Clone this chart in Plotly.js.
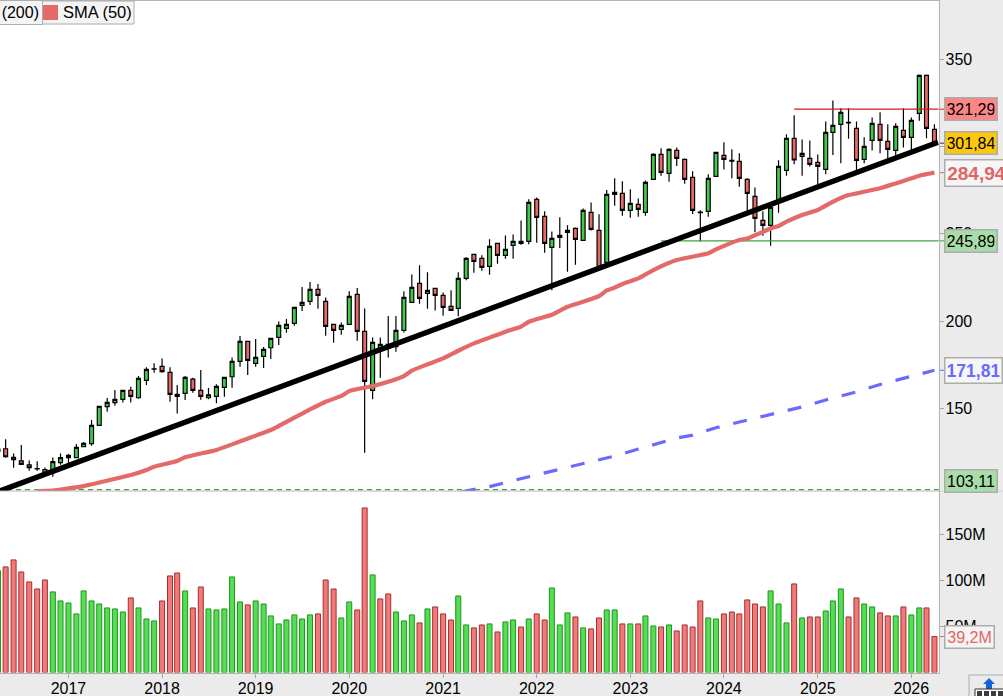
<!DOCTYPE html>
<html><head><meta charset="utf-8">
<script src="https://cdn.plot.ly/plotly-3.0.1.min.js"></script>
<style>html,body{margin:0;padding:0;background:#ebebeb;overflow:hidden}#c{width:1003px;height:696px}</style>
</head><body><div id="c"></div>
<script>
const firstMonth = [2016, 4];
const open = [125.4,126.9,121.9,120.0,117.7,115.5,114.9,114.3,118.9,
121.8,121.8,128.1,129.8,140.3,151.0,153.3,155.2,160.3,156.1,166.0,172.5,
174.0,170.6,158.0,158.6,166.7,160.3,156.1,156.9,162.0,168.1,176.9,188.4,
175.8,179.8,184.7,190.6,195.8,198.7,209.0,211.3,218.1,211.3,198.1,195.2,
198.1,215.3,194.1,160.3,183.5,184.4,185.3,194.7,210.7,221.6,215.8,218.7,
214.7,208.4,207.2,224.4,238.2,235.9,231.3,244.5,237.6,243.3,245.6,245.6,
269.7,259.9,242.2,247.9,250.8,253.1,246.2,262.2,251.9,233.6,273.7,273.1,
263.4,266.8,262.2,281.1,295.4,284.5,297.7,292.6,282.3,262.0,262.8,282.8,
294.8,292.0,291.4,281.1,271.4,257.6,254.8,269.1,286.3,304.6,294.3,293.1,
290.8,286.8,308.0,312.6,313.7,310.3,292.6,303.4,312.6,302.9,297.7,309.2,
305.2,318.9,340.6,309.7];
const high = [128.4,132.3,124.2,129.0,120.2,119.7,116.2,121.9,124.2,
123.9,129.6,130.7,143.3,151.2,155.9,160.5,160.5,162.4,168.5,173.5,175.8,
178.6,173.5,163.4,168.5,167.6,172.0,161.7,163.8,167.8,179.2,191.4,188.4,
189.7,185.1,190.5,199.8,201.2,207.8,219.5,222.3,221.2,213.5,198.1,199.2,
217.0,218.9,207.2,190.6,190.6,202.9,202.9,217.0,226.7,231.9,227.9,218.7,
216.4,217.6,227.9,236.5,238.2,237.6,246.8,244.5,249.0,249.6,257.6,269.7,
270.8,262.8,251.3,259.4,254.8,253.6,264.5,267.9,261.1,275.0,281.7,280.0,
275.4,270.2,280.5,296.0,298.9,298.9,299.4,293.1,285.7,263.4,284.0,296.6,
302.3,298.3,296.0,281.7,276.5,262.8,265.1,292.0,306.9,317.8,304.0,303.4,
295.4,314.3,326.3,321.8,321.8,314.3,305.2,316.6,319.5,312.6,313.2,321.8,
316.6,341.2,341.2,312.6];
const low = [123.9,121.8,116.0,117.6,114.3,114.3,111.8,110.9,117.7,
117.9,121.8,127.7,128.6,140.3,148.1,151.5,153.3,153.3,155.5,163.4,170.4,
170.4,153.8,147.0,154.8,159.0,155.0,155.2,153.0,156.7,161.8,173.9,169.1,
173.9,173.1,178.3,186.3,193.3,197.3,205.7,209.2,207.1,191.6,187.6,192.2,
198.1,188.7,124.6,155.2,167.6,179.2,182.4,193.5,210.7,209.9,207.1,206.1,
203.1,206.1,202.7,223.3,227.7,228.8,226.5,232.8,235.7,235.7,243.7,243.9,
244.8,239.1,217.6,241.8,228.2,232.3,246.2,251.9,230.2,232.5,266.0,260.3,
259.2,259.7,260.3,281.1,283.2,279.8,288.7,278.6,261.3,245.6,259.7,282.8,
286.8,281.7,276.9,262.2,250.8,248.9,243.1,262.0,283.2,289.7,283.2,288.5,
277.3,284.0,295.0,290.3,304.4,285.7,290.3,297.7,296.0,292.0,293.7,299.4,
297.7,314.7,304.6,301.3];
const close = [126.7,122.3,120.6,117.9,116.0,115.3,112.8,119.5,121.8,
123.1,127.7,130.0,140.3,151.2,153.4,155.2,160.3,156.9,167.2,172.3,172.7,
171.0,158.0,156.9,167.8,160.3,156.9,157.8,162.6,167.8,176.9,188.4,177.5,
179.2,183.8,190.1,197.5,198.1,207.8,210.7,218.1,214.7,197.0,194.7,197.5,
214.1,194.1,165.5,187.8,186.6,186.6,194.7,213.6,219.3,213.0,217.6,214.7,
207.8,206.1,224.4,235.9,234.2,230.7,242.7,237.6,241.0,245.6,244.5,267.9,
259.4,244.5,247.3,249.0,251.9,246.8,263.4,252.5,230.7,272.5,272.5,263.4,
267.4,263.9,279.4,295.4,285.1,298.3,293.1,281.1,263.4,262.4,281.7,296.6,
292.6,291.6,281.7,273.1,258.8,254.8,265.1,288.5,304.6,292.2,296.0,289.7,
288.5,308.0,312.0,319.5,313.4,292.0,300.0,313.2,303.4,298.3,311.5,305.2,
314.9,340.6,310.3,301.84];
const volumeM = [110.9,114.9,122.5,109.4,98.6,90.9,100.7,87.7,77.9,
75.7,63.8,88.8,77.9,74.6,70.3,69.2,65.9,81.2,70.3,58.3,56.2,
77.9,105.1,108.3,88.8,70.3,93.1,69.2,68.1,69.2,104,76.8,73.6,
77.9,74.6,61.6,52.9,57.2,62.7,58.3,62.7,63.8,100.7,90.9,59.4,
76.8,68.1,179,106.2,80.1,85.5,65.9,56.2,62.7,54,69.2,71.4,
63.8,57.2,83.3,51.8,48.6,51.8,52.9,44.2,55.1,57.2,49.6,58.3,
63.8,57.2,92,51.8,64.9,60.5,48.6,47.5,59.4,68.1,68.1,52.9,
52.9,52.9,61.6,50.7,49.6,51.8,45.3,51.8,49.6,77.9,59.4,58.3,
63.8,65.9,63.8,79,74.6,71.4,88.8,74.6,54,96.4,59.4,60.5,
60.5,67,77.9,90.9,60.5,81.2,74.6,71.4,64.9,61.6,61.6,71.4,
62.7,70.3,70.3,39.2];
const volumeDir = ("g r r r r r r g g " +
"g g g g g g g g r g g g " +
"r r r g r r g g g g g r " +
"g g g g g g g g r r r g " +
"g r r g r r g g g r g r " +
"r r g g r r g r g g r g " +
"r r g g g r g r r g g r " +
"g r g g r g r r r r g g " +
"r r r r r r g g g r g r " +
"r g g g r r g g r r g r " +
"g g r r").trim().split(" ");

const sma50Dates = ["2016-09-01","2016-11-01","2017-01-01","2017-03-01","2017-06-01","2017-09-01","2017-11-01","2017-12-01","2018-03-01","2018-04-01","2018-08-01","2018-10-01","2019-01-01","2019-03-01","2019-06-01","2019-08-01","2019-10-01","2019-12-01","2020-01-01","2020-04-01","2020-06-01","2020-08-01","2020-09-01","2020-11-01","2021-01-01","2021-03-01","2021-05-01","2021-07-01","2021-09-01","2021-11-01","2021-12-01","2022-01-01","2022-03-01","2022-05-01","2022-07-01","2022-09-01","2022-10-01","2022-11-01","2022-12-01","2023-02-01","2023-04-01","2023-07-01","2023-11-01","2023-12-01","2024-03-01","2024-04-01","2024-07-01","2024-08-01","2024-09-01","2024-11-01","2025-01-01","2025-03-01","2025-05-01","2025-06-01","2025-09-01","2025-11-01","2026-01-01","2026-02-01","2026-04-01"];
const sma50 = [102.7,102.9,104.2,105.5,108.6,111.8,114.7,116.6,119.9,122.0,126.2,129.4,134.4,137.6,144.7,149.4,153.8,157.1,159.9,162.8,165.3,168.5,171.6,175.2,178.6,183.0,187.2,190.5,193.9,196.8,199.6,201.1,203.6,208.2,211.1,214.3,217.5,219.1,221.2,224.4,229.2,234.9,238.8,241.0,246.4,247.3,253.0,254.4,256.9,260.7,263.6,268.3,272.1,273.1,276.0,278.8,281.7,283.2,284.94];
const sma200Dates = ["2021-03-15","2021-07-01","2021-12-01","2022-04-01","2022-08-01","2022-11-01","2023-02-01","2023-05-01","2023-07-01","2023-09-01","2023-12-01","2024-04-01","2024-07-01","2024-11-01","2025-02-01","2025-06-01","2025-09-01","2025-12-01","2026-04-01"];
const sma200 = [102.3,105.2,110.9,115.1,119.7,122.7,126.7,130.3,133.0,134.7,138.9,143.3,146.6,150.8,154.8,159.4,163.7,167.0,171.81];
const trendDates = ["2016-04-09","2026-04-15"];
const trendValues = [102.7,302.4];
const priceTicks = [150,200,250,300,350];
const volumeTicks = [50,100,150];
const volumeTickLabels = ["50M","100M","150M"];
const legendLabels = ["(200)","SMA (50)"];

const W=1003,H=696,PX=938.8,PY=491,BY=672.6;
const px=v=>v/W, py=v=>1-v/H;
const months=[];
let yy=firstMonth[0],mm=firstMonth[1];
for(let i=0;i<open.length;i++){months.push(yy+"-"+String(mm).padStart(2,"0")+"-01");mm++;if(mm>12){mm=1;yy++;}}
const RED="#e46a6a",GRN="#3fca4a";
const xEnd="2026-04-18";

const traces=[
 {type:"bar",x:months,y:volumeM,xaxis:"x",yaxis:"y2",width:19.5*86400000,
  marker:{color:volumeDir.map(d=>d==="g"?"#58dc58":"#f07a7a"),
          line:{color:volumeDir.map(d=>d==="g"?"#159a15":"#a82c2c"),width:1}}},
 {type:"candlestick",x:months,open:open,high:high,low:low,close:close,xaxis:"x",yaxis:"y",whiskerwidth:0,
  increasing:{line:{color:"#000",width:1.2},fillcolor:GRN},
  decreasing:{line:{color:"#000",width:1.2},fillcolor:RED}},
 {type:"scatter",mode:"lines",x:[months[0],xEnd],y:[103.5,103.5],xaxis:"x",yaxis:"y",line:{color:"#3aa53a",width:1.2,dash:"5px,4px"}},
 {type:"scatter",mode:"lines",x:["2023-05-01",xEnd],y:[245.89,245.89],xaxis:"x",yaxis:"y",line:{color:"#3f9f3f",width:1.2}},
 {type:"scatter",mode:"lines",x:["2024-10-01",xEnd],y:[321.29,321.29],xaxis:"x",yaxis:"y",line:{color:"#d81818",width:1.2}},
 {type:"scatter",mode:"lines",x:sma200Dates,y:sma200,xaxis:"x",yaxis:"y",line:{color:"#6a6aff",width:3.2,dash:"14px,14px"}},
 {type:"scatter",mode:"lines",x:sma50Dates,y:sma50,xaxis:"x",yaxis:"y",line:{color:RED,width:4.2,shape:"spline",smoothing:0.5}},
 {type:"scatter",mode:"lines",x:trendDates,y:trendValues,xaxis:"x",yaxis:"y",line:{color:"#000",width:5.4}}
];
const fnt={family:"Liberation Sans, Arial, sans-serif",size:16,color:"#000"};
const priceLabels=[
 {v:321.29,t:"321,29",bg:"#fa8686",c:"#000",w:53,sz:16,shift:0},
 {v:301.84,t:"301,84",bg:"#fcc90a",c:"#000",w:53,sz:16,shift:0},
 {v:284.94,t:"<b>284,94</b>",bg:"#f6f6f6",c:"#e06666",w:64,sz:19,shift:0},
 {v:245.89,t:"245,89",bg:"#a8dca8",c:"#000",w:53,sz:16,shift:0},
 {v:171.81,t:"<b>171,81</b>",bg:"#f6f6f6",c:"#6a6aff",w:58,sz:17.5,shift:0},
 {v:103.11,t:"103,11",bg:"#a8dca8",c:"#000",w:53,sz:16,shift:9}
];
const annotations=priceLabels.map(l=>({xref:"paper",yref:"y",x:px(944),y:l.v,xanchor:"left",yanchor:"middle",yshift:l.shift,
  text:l.t,showarrow:false,bgcolor:l.bg,bordercolor:"#acacac",borderwidth:1.5,borderpad:2,width:l.w-6,align:"center",
  font:{family:fnt.family,size:l.sz,color:l.c}}));
annotations.push({xref:"paper",yref:"y2",x:px(944),y:39.2,xanchor:"left",yanchor:"middle",text:"39,2M",showarrow:false,bgcolor:"#f4f4f4",bordercolor:"#acacac",borderwidth:1.5,borderpad:2,width:44,align:"center",font:{family:fnt.family,size:16,color:"#e06666"}});
annotations.push({xref:"paper",yref:"paper",x:px(-4),y:py(12),xanchor:"left",yanchor:"middle",text:legendLabels[0],showarrow:false,bgcolor:"#f4f4f4",bordercolor:"#acacac",borderwidth:1,borderpad:3,font:fnt,width:39,align:"right"});
annotations.push({xref:"paper",yref:"paper",x:px(60.5),y:py(12),xanchor:"left",yanchor:"middle",text:legendLabels[1],showarrow:false,font:{family:fnt.family,size:16.5,color:"#000"}});
const lineShape=(x0,y0,x1,y1,c,w)=>({type:"line",xref:"paper",yref:"paper",x0:px(x0),y0:py(y0),x1:px(x1),y1:py(y1),line:{color:c,width:w||1}});
const rect=(x0,y0,x1,y1,f,c,w)=>({type:"rect",xref:"paper",yref:"paper",x0:px(x0),y0:py(y0),x1:px(x1),y1:py(y1),fillcolor:f,line:{color:c||f,width:w===undefined?0:w}});
const tick=(ref,v,c)=>({type:"line",xref:"paper",yref:ref,x0:px(940),x1:px(944),y0:v,y1:v,line:{color:c,width:1}});
const shapes=[
 lineShape(0,0.5,940,0.5,"#b4b4b4",1),
 lineShape(0,491,940,491,"#b4b4b4",1),
 lineShape(940,491,1003,491,"#d2d2d2",1),
 tick("y",321.29,"#d81818"),tick("y",301.84,"#333"),tick("y",284.94,"#e06666"),tick("y",245.89,"#3f9f3f"),tick("y",171.81,"#6a6aff"),tick("y2",39.2,"#e06666"),
 rect(40,1,134,24,"#f4f4f4","#acacac",1),
 rect(43,5,58,20,RED),
 rect(969,675,1010,700,"#ebebeb","#acacac",1),
 {type:"path",xref:"paper",yref:"paper",fillcolor:"#1464d2",line:{width:0},
  path:`M ${px(989)} ${py(678)} L ${px(995)} ${py(684)} L ${px(992)} ${py(684)} L ${px(992)} ${py(689)} L ${px(986)} ${py(689)} L ${px(986)} ${py(684)} L ${px(983)} ${py(684)} Z`},
 rect(975,689,1004,697,"#fff","#333",1),
 rect(977,691,982,696,"#3c3c3c"),rect(984,691,989,696,"#3c3c3c"),rect(991,691,996,696,"#3c3c3c"),rect(998,691,1003,696,"#3c3c3c")
];
const yCommon={side:"right",anchor:"x",ticks:"outside",ticklen:4,tickcolor:"#a8a8a8",tickfont:fnt,showgrid:false,zeroline:false,showline:true,linecolor:"#b4b4b4",linewidth:1.5,ticklabelstandoff:-2};
const layout={width:W,height:H,margin:{l:0,r:0,t:0,b:0},paper_bgcolor:"#ebebeb",plot_bgcolor:"#fff",showlegend:false,font:fnt,boxgap:0.22,
 xaxis:{type:"date",domain:[0,PX/W],range:["2016-04-09",xEnd],anchor:"y2",tick0:"2017-01-01",dtick:"M12",tickformat:"%Y",ticks:"outside",ticklen:4,tickcolor:"#a8a8a8",tickfont:fnt,showgrid:false,zeroline:false,showline:true,linecolor:"#b4b4b4",linewidth:1.5,rangeslider:{visible:false},ticklabelmode:"instant",ticklabelstandoff:-3},
 yaxis:Object.assign({domain:[py(PY),1],range:[102.7,383.8],tickvals:priceTicks,ticktext:priceTicks.map(String)},yCommon),
 yaxis2:Object.assign({domain:[py(BY),py(PY)],range:[0,197.4],tickvals:volumeTicks,ticktext:volumeTickLabels},yCommon),
 shapes:shapes,annotations:annotations};
Plotly.newPlot("c",traces,layout,{staticPlot:true,displayModeBar:false});
</script></body></html>
